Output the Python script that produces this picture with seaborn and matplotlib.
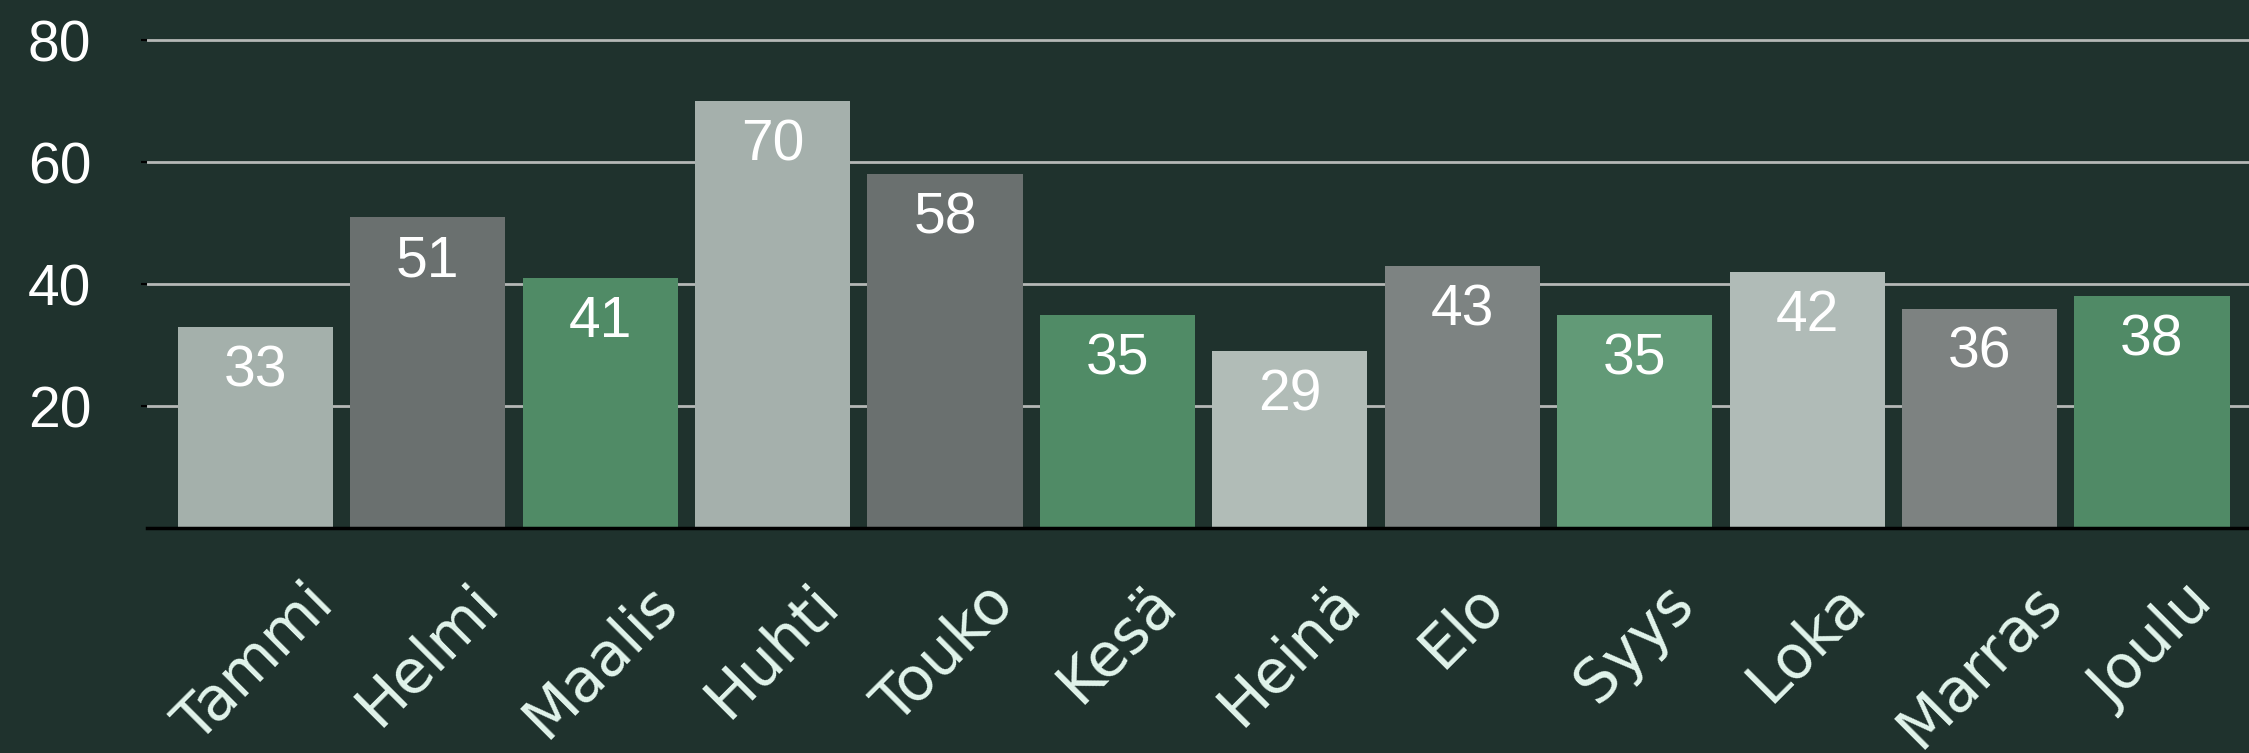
import pandas as pd
import matplotlib
matplotlib.use("Agg")
import matplotlib.pyplot as plt
import seaborn as sns

# Data
months = ['Tammi', 'Helmi', 'Maalis', 'Huhti', 'Touko', 'Kesä',
          'Heinä', 'Elo', 'Syys', 'Loka', 'Marras', 'Joulu']
values = [33, 51, 41, 70, 58, 35, 29, 43, 35, 42, 36, 38]
bar_colors = ['#a4b0ab', '#6a706f', '#508b66', '#a5b0ac', '#6a706f', '#508b66',
              '#b1bcb7', '#7d8382', '#629a77', '#b0bbb7', '#7d8281', '#508a66']

bg = '#1f322d'

sns.set_theme(style="white")
plt.rcParams['font.family'] = ['Liberation Sans', 'DejaVu Sans']

df = pd.DataFrame({'month': months, 'value': values})

fig = plt.figure(figsize=(22.49, 7.53), dpi=100, facecolor=bg)
ax = fig.add_axes([147 / 2249, 1 - 528 / 753, 1 - 147 / 2249, 528 / 753])
ax.set_facecolor(bg)

sns.barplot(data=df, x='month', y='value', hue='month', palette=bar_colors,
            legend=False, width=0.9, saturation=1, linewidth=0,
            ax=ax, zorder=2)

ax.set_ylim(0, 86.6)
ax.set_xlim(-0.629, 11.563)
ax.set_yticks([20, 40, 60, 80])
ax.yaxis.grid(True, color='#b5b8b6', linewidth=2, zorder=0)
ax.set_axisbelow(True)

for s in ['top', 'right', 'left']:
    ax.spines[s].set_visible(False)
ax.spines['bottom'].set_color('black')
ax.spines['bottom'].set_linewidth(2.5)
ax.spines['bottom'].set_zorder(3)

ax.tick_params(axis='y', length=4, width=1.5, color='black', pad=36,
               labelsize=41, labelcolor='white', left=True)
ax.tick_params(axis='x', length=0, pad=33)
ax.set_xticks(range(len(months)))
ax.set_xticklabels(months, rotation=45, ha='center', fontsize=43,
                   color='#e2f5ec', family='DejaVu Sans')
ax.set_xlabel('')
ax.set_ylabel('')

# value labels inside the bar tops
for i, v in enumerate(values):
    ax.annotate(str(v), (i, v), xytext=(0, -32), textcoords='offset points',
                ha='center', va='center', color='white', fontsize=41)

fig.savefig('out.png', dpi=100, facecolor=bg)
